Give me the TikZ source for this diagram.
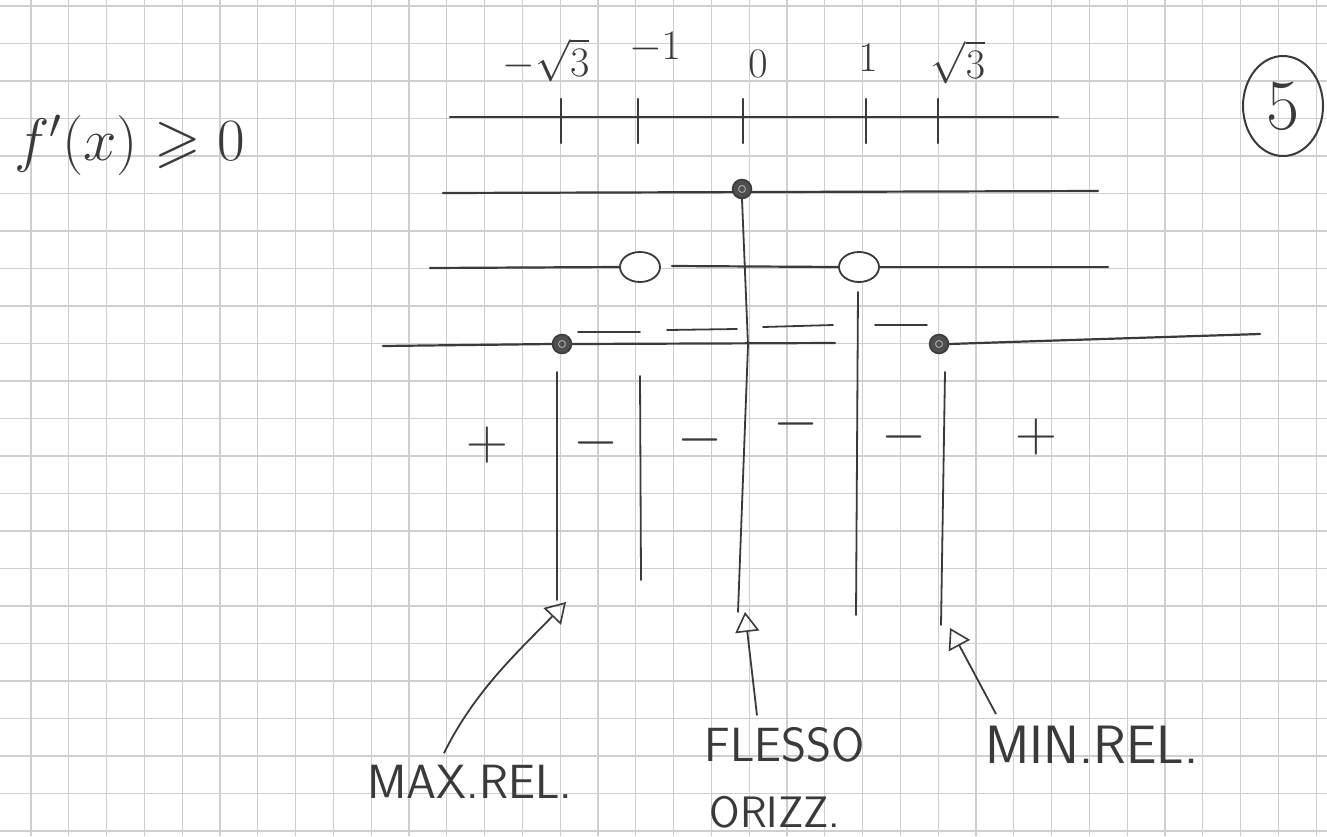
\RequirePackage{fix-cm}
\documentclass[tikz,border=0pt]{standalone}
\usepackage{amsmath,amssymb}
\usetikzlibrary{arrows.meta,shapes.geometric}
\definecolor{ink}{HTML}{3A3A3A}
\definecolor{gridc}{HTML}{CFCFCF}
\tikzset{
  pen/.style={draw=ink, line width=2.2pt, line cap=round},
  thinpen/.style={draw=ink, line width=1.8pt, line cap=round},
  fdot/.style={circle, draw=ink, fill=ink!90, line width=1.5pt, minimum size=19pt, inner sep=0pt,
     path picture={\draw[white!55!ink, line width=1pt] (path picture bounding box.center) circle (3.5pt);}},
  odot/.style={ellipse, draw=ink, fill=white, line width=1.8pt, minimum width=40pt, minimum height=30pt, inner sep=0pt},
  lbl/.style={text=ink, inner sep=0pt, font=\fontsize{42}{42}\selectfont},
  word/.style={text=ink, inner sep=0pt, font=\sffamily\fontsize{48}{48}\selectfont},
  sgn/.style={text=ink, inner sep=0pt, font=\fontsize{58}{58}\selectfont},
  conn/.style={draw=ink, line width=1.8pt, -{Triangle[open, length=20pt, width=24pt, line width=1.6pt]}},
}
\begin{document}
\begin{tikzpicture}[x=1pt,y=-1pt]
\useasboundingbox (0,0) rectangle (1327,836);
\fill[white] (0,0) rectangle (1327,836);
% graph paper
\foreach \i in {0,...,34} \draw[gridc, line width=1.3pt] ({31+37.8*\i},0) -- ({31+37.8*\i},836);
\foreach \j in {0,...,22} \draw[gridc, line width=1.3pt] (0,{6+37.5*\j}) -- (1327,{6+37.5*\j});

% condition
\node[text=ink, inner sep=0pt, font=\fontsize{60}{60}\selectfont] (cond) at (130,145) {$f'(x)\geqslant 0$};
% circled number
\node[ellipse, draw=ink, line width=2pt, minimum width=80pt, minimum height=100pt, inner sep=0pt,
      text=ink, font=\fontsize{72}{72}\selectfont] (five) at (1283,106) {5};

% axis labels
\node[lbl] (lm3) at (546,60) {$-\sqrt{3}$};
\node[lbl] (lm1) at (655,48) {$-1$};
\node[lbl] (l0) at (758,64) {$0$};
\node[lbl] (l1) at (868,58) {$1$};
\node[lbl] (lp3) at (958,62) {$\sqrt{3}$};

% axis
\coordinate (axL) at (450,117);
\coordinate (axR) at (1058,117);
\draw[pen] (axL) -- (axR);
\foreach \x in {561,638,743,866,938} \draw[pen] (\x,99) -- (\x,143);

% row 1
\draw[pen] (443,193) -- (1098,191);
\node[fdot] (d0) at (742,189) {};

% row 2
\node[odot] (om1) at (640,267) {};
\node[odot] (op1) at (859,267) {};
\draw[pen] (430,268) -- (om1.west);
\draw[pen] (672,266) -- (op1.west);
\draw[pen] (op1.east) -- (1108,267);

% row 3
\node[fdot] (dm3) at (562,344) {};
\node[fdot] (dp3) at (939,344) {};
\draw[pen] (383,346) -- (dm3.west);
\draw[pen] (dm3.east) -- (835,343);
\draw[pen] (dp3.east) -- (1040,341) -- (1260,334);
\draw[thinpen] (578,332) -- (640,332);
\draw[thinpen] (667,330) -- (737,329);
\draw[thinpen] (763,327) -- (833,325);
\draw[thinpen] (875,325) -- (927,325);

% vertical lines
\coordinate (vm3a) at (557,372); \coordinate (vm3b) at (557,600);
\coordinate (vm1a) at (640,376); \coordinate (vm1b) at (641,580);
\coordinate (v0b) at (738,612);
\coordinate (v1a) at (858,292); \coordinate (v1b) at (856,615);
\coordinate (vp3a) at (945,372); \coordinate (vp3b) at (941,625);
\draw[thinpen] (vm3a) -- (vm3b);
\draw[thinpen] (vm1a) -- (vm1b);
\draw[thinpen] (d0.south) -- (748,345) -- (v0b);
\draw[thinpen] (v1a) -- (v1b);
\draw[thinpen] (vp3a) -- (vp3b);

% signs
\node[sgn] (s1) at (487,445) {$+$};
\node[sgn] (s2) at (596,443) {$-$};
\node[sgn] (s3) at (700,440) {$-$};
\node[sgn] (s4) at (796,424) {$-$};
\node[sgn] (s5) at (904,437) {$-$};
\node[sgn] (s6) at (1036,437) {$+$};

% labels
\node[word] (maxl) at (470,782) {MAX.REL.};
\node[word] (flesso) at (785,745) {FLESSO};
\node[word, font=\sffamily\fontsize{44}{44}\selectfont] (orizz) at (775,812) {ORIZZ.};
\node[word, font=\sffamily\fontsize{54}{54}\selectfont] (minl) at (1092,745) {MIN.REL.};

% arrow tips
\coordinate (tmax) at (566,602);
\coordinate (tfl) at (745,612);
\coordinate (tmin) at (950,628);

\draw[conn] ([xshift=-26pt,yshift=12pt]maxl.north) .. controls (475,690) and (520,650) .. (tmax);
\draw[conn] ([xshift=-28pt,yshift=12pt]flesso.north) -- (tfl);
\draw[conn] ([xshift=-96pt,yshift=12pt]minl.north) -- (tmin);
\end{tikzpicture}
\end{document}
